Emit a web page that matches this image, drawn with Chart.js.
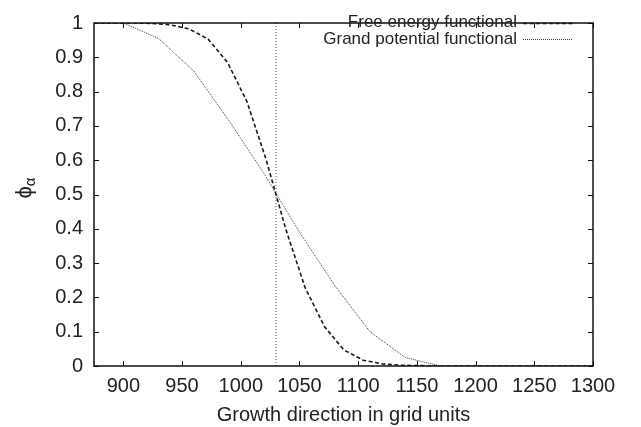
<!DOCTYPE html>
<html>
<head>
<meta charset="utf-8">
<script src="https://cdn.jsdelivr.net/npm/chart.js@4"></script>
<style>
  html, body { margin: 0; padding: 0; background: #fff; }
  #wrap { width: 641px; height: 427px; }
</style>
</head>
<body>
<div id="wrap"><canvas id="myChart" width="641" height="427"></canvas></div>
<script>
// values
const freeX = [875, 906.5, 923, 939.25, 955.75, 972.25, 988.75, 1005.25, 1021.75, 1038.25, 1054.75, 1071.25, 1087.75, 1104.25, 1120.75, 1137.25, 1153.75, 1170.25, 1300];
const freeY = [1, 1, 0.999, 0.995, 0.983, 0.953, 0.885, 0.771, 0.6, 0.4, 0.229, 0.115, 0.047, 0.017, 0.006, 0.002, 0.001, 0, 0];
const grandX = [875, 900, 930, 960, 990, 1020, 1050, 1080, 1110, 1140, 1170, 1300];
const grandY = [1, 1, 0.955, 0.86, 0.715, 0.56, 0.39, 0.235, 0.1, 0.025, 0, 0];
const markerX = [1030, 1030];
const markerY = [0, 1];
const seriesNames = ['Free energy functional', 'Grand potential functional'];
const xLimits = [875, 1300];
const yLimits = [0, 1];

const FONT = 'Liberation Sans, Arial, Helvetica, sans-serif';
const INK = '#222';

function toPoints(xs, ys) {
    return xs.map((x, i) => ({ x: x, y: ys[i] }));
}

// box round the plot with gnuplot style inward ticks on all four sides
const framePlugin = {
    id: 'frame',
    afterDatasetsDraw(chart) {
        const ctx = chart.ctx;
        const a = chart.chartArea;
        const xs = chart.scales.x, ys = chart.scales.y;
        const len = 5;
        ctx.save();
        ctx.strokeStyle = '#111';
        ctx.lineWidth = 1;
        ctx.beginPath();
        xs.ticks.forEach(t => {
            const px = Math.round(xs.getPixelForValue(t.value)) + 0.5;
            ctx.moveTo(px, a.bottom); ctx.lineTo(px, a.bottom - len);
            ctx.moveTo(px, a.top); ctx.lineTo(px, a.top + len);
        });
        ys.ticks.forEach(t => {
            const py = Math.round(ys.getPixelForValue(t.value)) + 0.5;
            ctx.moveTo(a.left, py); ctx.lineTo(a.left + len, py);
            ctx.moveTo(a.right, py); ctx.lineTo(a.right - len, py);
        });
        ctx.stroke();
        ctx.lineWidth = 1.5;
        ctx.strokeRect(a.left, a.top, a.right - a.left, a.bottom - a.top);
        ctx.restore();
    }
};

// legend: text right aligned, line sample to its right
const keyPlugin = {
    id: 'key',
    afterDatasetsDraw(chart) {
        const ctx = chart.ctx;
        const textRight = 517, lineL = 523, lineR = 573;
        const rows = [22.5, 39];
        ctx.save();
        ctx.font = '17px ' + FONT;
        ctx.fillStyle = INK;
        ctx.textAlign = 'right';
        ctx.textBaseline = 'middle';
        [0, 1].forEach(i => {
            const ds = chart.data.datasets[i];
            ctx.fillText(ds.label, textRight, rows[i]);
            ctx.strokeStyle = ds.borderColor;
            ctx.lineWidth = ds.borderWidth;
            ctx.setLineDash(ds.borderDash);
            ctx.beginPath();
            ctx.moveTo(lineL, Math.round(rows[i]) + 0.5);
            ctx.lineTo(lineR, Math.round(rows[i]) + 0.5);
            ctx.stroke();
        });
        ctx.restore();
    }
};

// rotated phi with alpha subscript
const yTitlePlugin = {
    id: 'ytitle',
    afterDraw(chart) {
        const ctx = chart.ctx;
        ctx.save();
        ctx.translate(31, 188);
        ctx.rotate(-Math.PI / 2);
        ctx.fillStyle = INK;
        ctx.textBaseline = 'alphabetic';
        ctx.font = '22px ' + FONT;
        const w1 = ctx.measureText('\u03d5').width;
        ctx.font = '15px ' + FONT;
        const w2 = ctx.measureText('\u03b1').width;
        const x0 = -(w1 + w2) / 2;
        ctx.font = '22px ' + FONT;
        ctx.textAlign = 'left';
        ctx.fillText('\u03d5', x0, 0);
        ctx.font = '15px ' + FONT;
        ctx.fillText('\u03b1', x0 + w1, 4);
        ctx.restore();
    }
};

const config = {
    type: 'line',
    data: {
        datasets: [
            {
                label: seriesNames[0],
                data: toPoints(freeX, freeY),
                borderColor: '#1a1a1a',
                borderWidth: 1.6,
                borderDash: [4, 2.5],
                pointRadius: 0,
                tension: 0,
                fill: false
            },
            {
                label: seriesNames[1],
                data: toPoints(grandX, grandY),
                borderColor: '#3a3a3a',
                borderWidth: 1,
                borderDash: [1, 1],
                pointRadius: 0,
                tension: 0,
                fill: false
            },
            {
                label: 'marker',
                data: toPoints(markerX, markerY),
                borderColor: '#555',
                borderWidth: 1,
                borderDash: [1, 2],
                pointRadius: 0,
                tension: 0,
                fill: false
            }
        ]
    },
    options: {
        responsive: false,
        animation: false,
        events: [],
        layout: { padding: { top: 8, right: 48, left: 0, bottom: 0 } },
        plugins: {
            legend: { display: false },
            tooltip: { enabled: false }
        },
        scales: {
            x: {
                type: 'linear',
                min: xLimits[0],
                max: xLimits[1],
                grid: { drawOnChartArea: false, drawTicks: false },
                border: { display: false },
                ticks: {
                    stepSize: 50,
                    includeBounds: false,
                    autoSkip: false,
                    maxRotation: 0,
                    padding: 8,
                    color: INK,
                    font: { family: FONT, size: 20 },
                    callback: v => String(v)
                },
                title: {
                    display: true,
                    text: 'Growth direction in grid units',
                    color: INK,
                    font: { family: FONT, size: 20 },
                    padding: { top: 0, bottom: 0 }
                },
                afterFit(scale) { scale.height = 61; }
            },
            y: {
                type: 'linear',
                min: yLimits[0],
                max: yLimits[1],
                grid: { drawOnChartArea: false, drawTicks: false },
                border: { display: false },
                ticks: {
                    stepSize: 0.1,
                    padding: 11,
                    color: INK,
                    font: { family: FONT, size: 20 },
                    callback: v => String(Math.round(v * 10) / 10)
                },
                afterFit(scale) { scale.width = 94; }
            }
        }
    },
    plugins: [framePlugin, keyPlugin, yTitlePlugin]
};

const ctx = document.getElementById('myChart').getContext('2d');
window.myChartInstance = new Chart(ctx, config);
</script>
</body>
</html>
